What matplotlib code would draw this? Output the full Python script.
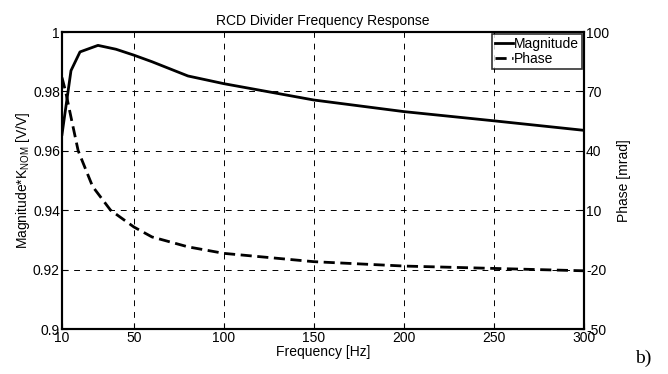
import matplotlib.pyplot as plt
import numpy as np

plt.rcParams['font.family'] = ['Liberation Sans', 'DejaVu Sans']
plt.rcParams['axes.unicode_minus'] = False
plt.rcParams['mathtext.default'] = 'regular'

# magnitude data
freq_mag = [10, 15, 20, 30, 40, 50, 60, 80, 100, 150, 200, 250, 300]
magnitude = [0.9655, 0.987, 0.9933, 0.9955, 0.9942, 0.9922, 0.990, 0.9852, 0.9826, 0.9771, 0.9732, 0.9701, 0.9669]

# phase data [mrad]
freq_ph = [10, 12, 15, 19, 27, 37, 50, 60, 80, 100, 150, 200, 250, 300]
phase = [77, 70, 57, 40, 22, 10, 1.5, -3.5, -8.5, -11.8, -16, -18.2, -19.4, -20.6]

x_ticks = [10, 50, 100, 150, 200, 250, 300]
mag_ticks = [0.9, 0.92, 0.94, 0.96, 0.98, 1]
ph_ticks = [-50, -20, 10, 40, 70, 100]

fs = 10

fig = plt.figure(figsize=(6.68, 3.74), dpi=100)
ax = fig.add_axes([0.0928, 0.1203, 0.7812, 0.7941])
ax2 = ax.twinx()

l1, = ax.plot(freq_mag, magnitude, 'k-', lw=2, label='Magnitude')
l2, = ax2.plot(freq_ph, phase, 'k--', lw=2, dashes=(4, 2), label='Phase')

ax.set_xlim(10, 300)
ax.set_ylim(0.9, 1)
ax2.set_ylim(-50, 100)
ax.set_xticks(x_ticks)
ax.set_yticks(mag_ticks)
ax.set_yticklabels(['0.9', '0.92', '0.94', '0.96', '0.98', '1'])
ax2.set_yticks(ph_ticks)

ax.grid(True, color='k', ls=(0, (6, 6)), lw=0.7)
for a in (ax, ax2):
    a.tick_params(direction='in', length=4, labelsize=fs, pad=1.5)
    for s in a.spines.values():
        s.set_linewidth(1.5)

ax.set_title('RCD Divider Frequency Response', fontsize=fs, pad=5)
ax.set_xlabel('Frequency [Hz]', fontsize=fs, labelpad=0)
ax.set_ylabel('Magnitude*K$_{NOM}$ [V/V]', fontsize=fs, labelpad=1)
ax2.set_ylabel('Phase [mrad]', fontsize=fs, labelpad=6)

leg = ax.legend(handles=[l1, l2], loc='upper right', fontsize=fs, frameon=True,
                fancybox=False, handlelength=1.3, handletextpad=0.1,
                borderpad=0.2, labelspacing=0.1, borderaxespad=0.15)
leg.get_frame().set_edgecolor('k')
leg.get_frame().set_linewidth(1.2)

fig.text(0.963, 0.043, 'b)', fontsize=14, family='Liberation Serif',
         ha='center', va='center')

fig.savefig('out.png', dpi=100)
